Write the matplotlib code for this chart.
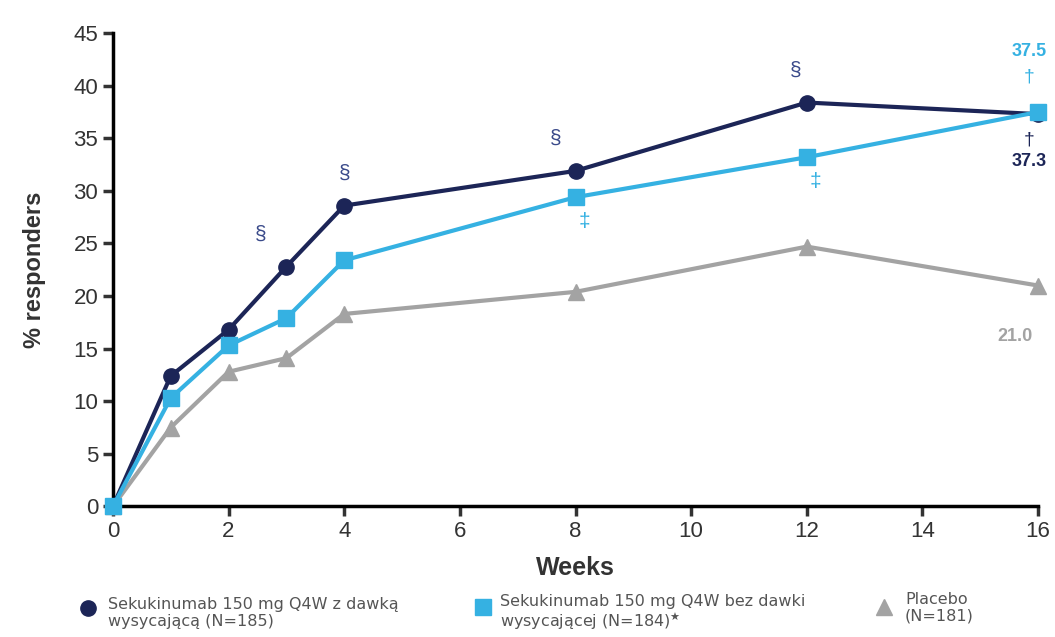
import matplotlib
matplotlib.use("Agg")
import matplotlib.pyplot as plt
from matplotlib.lines import Line2D

weeks = [0, 1, 2, 3, 4, 8, 12, 16]
loading = [0, 12.4, 16.8, 22.8, 28.6, 31.9, 38.4, 37.3]
no_loading = [0, 10.3, 15.3, 17.9, 23.4, 29.4, 33.2, 37.5]
placebo = [0, 7.5, 12.8, 14.1, 18.3, 20.4, 24.7, 21.0]
x_ticks = [0, 2, 4, 6, 8, 10, 12, 14, 16]
y_ticks = [0, 5, 10, 15, 20, 25, 30, 35, 40, 45]
sect_weeks = [3, 4, 8, 12]
ddag_weeks = [8, 12]
labels = ["Sekukinumab 150 mg Q4W z dawką\nwysycającą (N=185)",
          "Sekukinumab 150 mg Q4W bez dawki\nwysycającej (N=184)$^{\\bigstar}$",
          "Placebo\n(N=181)"]

navy = "#1c2557"
light = "#35b1e2"
gray = "#a3a3a3"

plt.rcParams['font.family'] = ['Liberation Sans', 'DejaVu Sans']
W, H = 1055, 637
fig = plt.figure(figsize=(W / 100, H / 100), dpi=100)
ax = fig.add_axes([0.107, 0.205, 0.877, 0.743])

ax.plot(weeks, loading, color=navy, lw=3, marker='o', ms=11, clip_on=False, zorder=3)
ax.plot(weeks, placebo, color=gray, lw=3, marker='^', ms=11, clip_on=False, zorder=4)
ax.plot(weeks, no_loading, color=light, lw=3, marker='s', ms=11, clip_on=False, zorder=5)

ax.set_xlim(0, 16)
ax.set_ylim(0, 45)
ax.set_xticks(x_ticks)
ax.set_yticks(y_ticks)
for s in ['top', 'right']:
    ax.spines[s].set_visible(False)
for s in ['left', 'bottom']:
    ax.spines[s].set_linewidth(2.5)
ax.tick_params(axis='both', direction='out', width=2.5, length=7, labelsize=16, colors='#333333')
ax.set_xlabel("Weeks", fontsize=18, fontweight='bold', color='#333333', labelpad=10)
ax.set_ylabel("% responders", fontsize=17, fontweight='bold', color='#333333', labelpad=20)

lookup_l = dict(zip(weeks, loading))
lookup_n = dict(zip(weeks, no_loading))
offs = {3: -0.45, 4: 0.0, 8: -0.35, 12: -0.2}
for w in sect_weeks:
    ax.text(w + offs[w], lookup_l[w] + 2.2, "§", color='#3a4a8a', fontsize=15,
            ha='center', va='bottom')
for w in ddag_weeks:
    ax.text(w + 0.15, lookup_n[w] - 1.4, "‡", color=light, fontsize=15,
            ha='center', va='top')

ax.text(15.85, 40.0, "†", color=light, fontsize=14, ha='center', va='bottom', clip_on=False)
ax.text(15.85, 42.4, "37.5", color=light, fontsize=13, fontweight='bold', ha='center', va='bottom', clip_on=False)
ax.text(15.85, 35.6, "†", color=navy, fontsize=14, ha='center', va='top', clip_on=False)
ax.text(15.85, 33.6, "37.3", color=navy, fontsize=13, fontweight='bold', ha='center', va='top', clip_on=False)
ax.text(15.6, 17.0, "21.0", color=gray, fontsize=13, fontweight='bold', ha='center', va='top', clip_on=False)

# legend drawn manually in figure pixel coordinates
markers = ['o', 's', '^']
colors = [navy, light, gray]
mx = [88, 483, 884]
my = [608, 607, 607]
tx = [108, 500, 905]
ty = [613, 613, 608]
for m, c, x0, y0, x1, y1, lab in zip(markers, colors, mx, my, tx, ty, labels):
    fig.add_artist(Line2D([x0 / W], [1 - y0 / H], marker=m, color=c, ms=11, ls='none',
                          transform=fig.transFigure))
    fig.text(x1 / W, 1 - y1 / H, lab, fontsize=11.5, color='#555555', ha='left', va='center',
             linespacing=1.1, family=['DejaVu Sans'])

fig.savefig("out.png", dpi=100)
